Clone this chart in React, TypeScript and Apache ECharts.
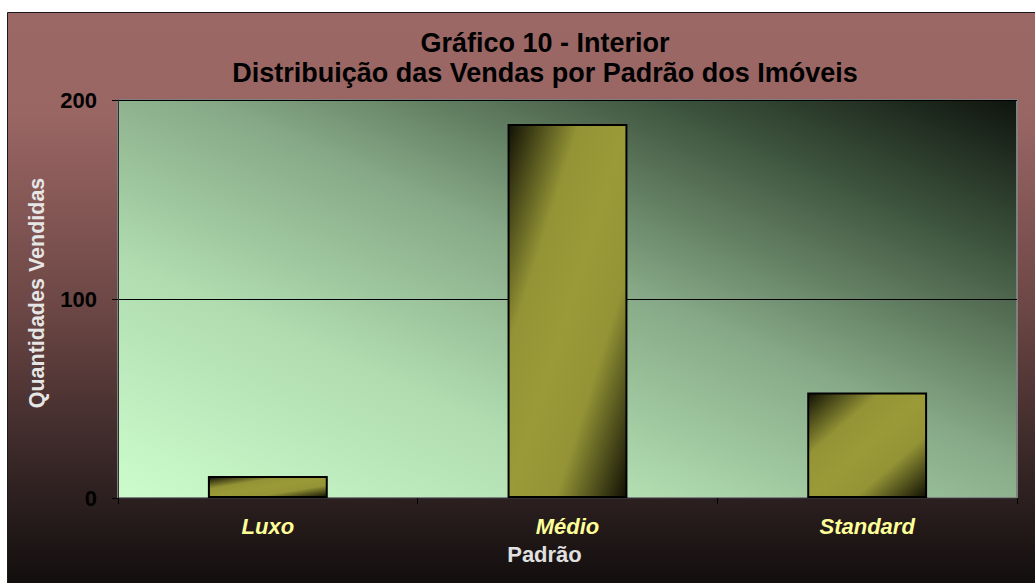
import React, { useEffect, useRef } from "react";
import * as echarts from "echarts";

const categories = ["Luxo", "Médio", "Standard"];
const values = [11, 188, 53];
const yTicks = [0, 100, 200];
const titleLines = ["Gráfico 10 - Interior", "Distribuição das Vendas por Padrão dos Imóveis"];
const yAxisName = "Quantidades Vendidas";
const xAxisName = "Padrão";

export default function App() {
  const ref = useRef<HTMLDivElement>(null);
  useEffect(() => {
    document.body.style.margin = "0";
    const chart = echarts.init(ref.current!, null, { renderer: "svg" });
    const font = "'Liberation Sans', Arial, sans-serif";
    chart.setOption({
      animation: false,
      backgroundColor: "#ffffff",
      graphic: [
        {
          type: "rect",
          z: -10,
          silent: true,
          shape: { x: 7.5, y: 12.5, width: 1040, height: 590 },
          style: {
            fill: new echarts.graphic.LinearGradient(0, 0, 0, 1, [
              { offset: 0, color: "#9b6866" },
              { offset: 0.17, color: "#9a6664" },
              { offset: 0.5, color: "#6c4745" },
              { offset: 0.75, color: "#3a2828" },
              { offset: 1, color: "#0c0a0a" },
            ]),
            stroke: "#1a1a1a",
            lineWidth: 1,
          },
        },
      ],
      title: {
        text: titleLines.join("\n"),
        left: 545,
        textAlign: "center",
        top: 28,
        padding: 0,
        textStyle: {
          fontFamily: font,
          fontWeight: "bold",
          fontSize: 27,
          lineHeight: 30,
          color: "#000000",
        },
      },
      grid: {
        left: 118,
        top: 100,
        width: 899,
        height: 398,
        show: true,
        borderColor: "#808080",
        borderWidth: 2,
        backgroundColor: new echarts.graphic.LinearGradient(0, 1, 1, 0, [
          { offset: 0, color: "#ccfccc" },
          { offset: 0.3, color: "#b0dcb0" },
          { offset: 0.55, color: "#86a886" },
          { offset: 0.8, color: "#3e543e" },
          { offset: 1, color: "#0e140e" },
        ]),
      },
      xAxis: {
        type: "category",
        data: categories,
        name: xAxisName,
        nameLocation: "middle",
        nameGap: 45,
        nameTextStyle: {
          fontFamily: font,
          fontWeight: "bold",
          fontSize: 22,
          color: "#e0e0e0",
          padding: [0, 46, 0, 0],
        },
        axisLine: { show: true, lineStyle: { color: "#303030", width: 1 } },
        axisTick: { show: true, length: 6, alignWithLabel: false, lineStyle: { color: "#000000" } },
        axisLabel: {
          margin: 17,
          fontFamily: font,
          fontWeight: "bold",
          fontStyle: "italic",
          fontSize: 22,
          color: "#ffff99",
        },
        splitLine: { show: false },
      },
      yAxis: {
        type: "value",
        min: yTicks[0],
        max: yTicks[yTicks.length - 1],
        interval: yTicks[1] - yTicks[0],
        name: yAxisName,
        nameLocation: "middle",
        nameRotate: 90,
        nameGap: 70,
        nameTextStyle: {
          fontFamily: font,
          fontWeight: "bold",
          fontSize: 21.5,
          color: "#e6e6e6",
          padding: [0, 0, 0, 12],
        },
        axisLine: { show: true, lineStyle: { color: "#303030", width: 1 } },
        axisTick: { show: true, length: 6, inside: false, lineStyle: { color: "#000000" } },
        axisLabel: {
          margin: 21,
          fontFamily: font,
          fontWeight: "bold",
          fontSize: 22,
          color: "#000000",
        },
        splitLine: { show: true, lineStyle: { color: "#000000", width: 1 } },
      },
      series: [
        {
          type: "bar",
          data: values,
          barWidth: "40%",
          itemStyle: {
            borderColor: "#000000",
            borderWidth: 2,
            color: new echarts.graphic.LinearGradient(0, 0, 1, 1, [
              { offset: 0, color: "#111105" },
              { offset: 0.3, color: "#949436" },
              { offset: 0.5, color: "#9a9a38" },
              { offset: 0.7, color: "#949436" },
              { offset: 1, color: "#111105" },
            ]),
          },
        },
      ],
    });
    return () => chart.dispose();
  }, []);
  return (
    <div
      ref={ref}
      style={{ position: "fixed", left: 0, top: 0, width: 1035, height: 583 }}
    />
  );
}
